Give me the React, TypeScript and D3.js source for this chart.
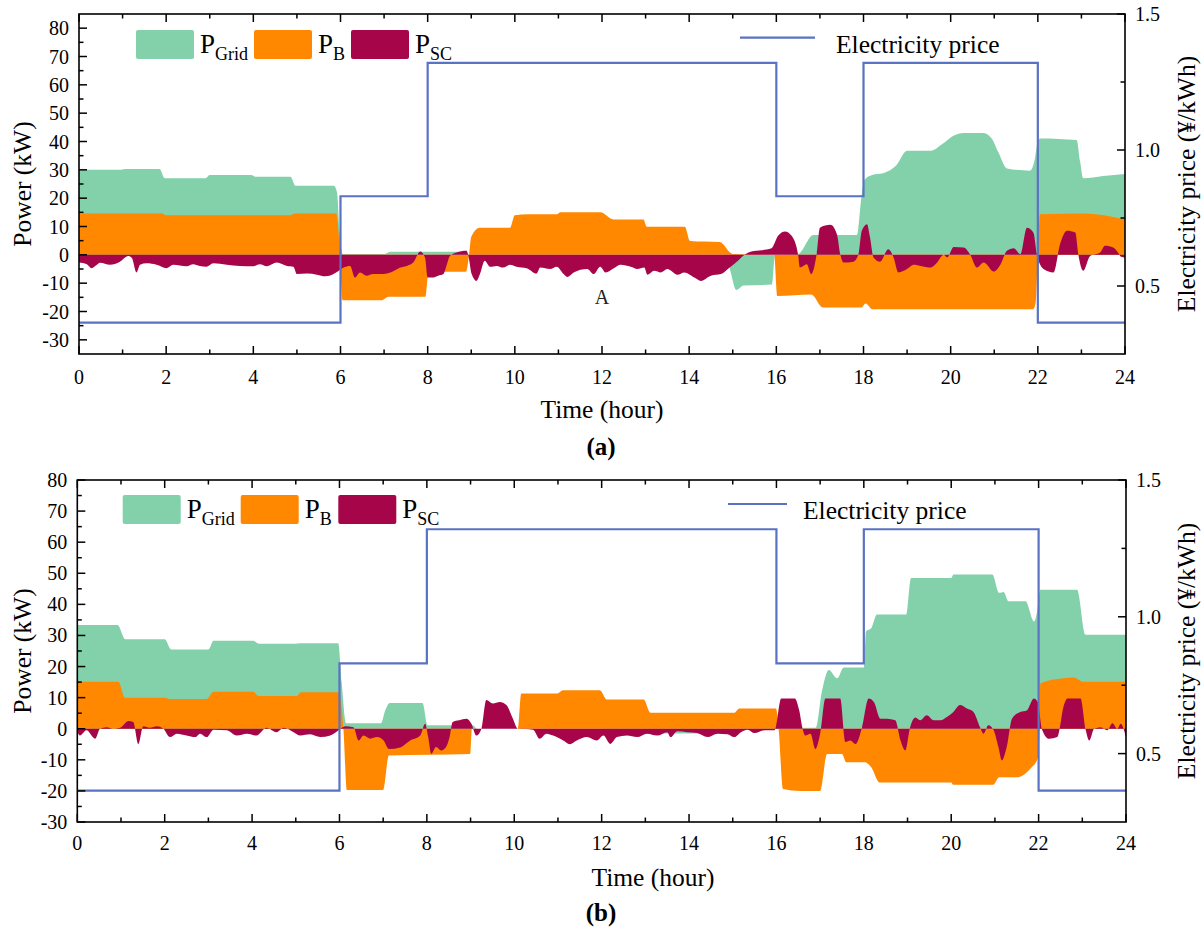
import React from 'react';
import * as d3 from 'd3';

type P = [number, number];

// ---------- data ----------
const hourTicks = [0, 2, 4, 6, 8, 10, 12, 14, 16, 18, 20, 22, 24];
const priceTicks = [0.5, 1.0, 1.5];
const priceBreaks = [0, 6, 8, 16, 18, 22, 24];
const priceLevels = [0.365, 0.83, 1.32, 0.83, 1.32, 0.365, 0.365];

const gridA: P[] = [
  [0, 30], [0.95, 30], [1.05, 30.3], [1.85, 30.3], [1.97, 27], [2.9, 27], [3.0, 28.2], [3.95, 28.2],
  [4.05, 27.6], [4.85, 27.6], [4.97, 24.4], [5.85, 24.4], [5.92, 22], [5.98, 8], [6.05, 0.3], [7.0, 0.3],
  [7.15, 1.1], [8.85, 1.1], [8.95, 0], [14.85, 0], [14.95, -6], [15.08, -12.4], [15.25, -10.8], [15.9, -10.5],
  [15.97, 0], [16.5, 0.3], [16.85, 7], [17.85, 7], [17.95, 20], [18.02, 26.4], [18.2, 28.2], [18.45, 28.8],
  [18.75, 31.5], [19.0, 36.7], [19.55, 36.7], [19.8, 39], [20.1, 42.3], [20.3, 43], [20.74, 43], [20.94, 41.1],
  [21.1, 36], [21.29, 30.5], [21.82, 29.7], [21.92, 33], [22.0, 40], [22.05, 41.1], [22.89, 40.5], [22.97, 33],
  [23.04, 27], [23.5, 27.8], [24, 28.5],
];

const battA: P[] = [
  [0, 14.6], [1.9, 14.6], [2.0, 14.0], [4.85, 14.0], [4.95, 14.6], [5.9, 14.6], [5.97, 5], [6.05, -16],
  [6.95, -16], [7.1, -14.8], [7.95, -14.8], [8.02, -6], [8.88, -6], [8.95, 0], [9.0, 6.4], [9.2, 9.6],
  [9.89, 9.6], [10.0, 14.0], [10.3, 14.3], [10.96, 14.3], [11.05, 15.0], [11.96, 15.0], [12.26, 12.5],
  [12.95, 12.5], [13.03, 9.9], [13.9, 9.9], [14.02, 4.9], [14.7, 4.5], [15.0, 0.3], [15.95, 0],
  [16.02, -14.5], [16.8, -14], [17.07, -18.6], [17.95, -18.6], [18.05, -17.2], [18.2, -19.2], [21.89, -19.2],
  [21.95, -17], [22.0, 0], [22.05, 14.3], [23.04, 14.6], [24, 12.5],
];

const scA: P[] = [
  [0, -2.7], [0.18, -3.3], [0.29, -4.7], [0.41, -3.5], [0.48, -2.8], [0.71, -3.5], [0.94, -2.4], [1.13, -0.4],
  [1.21, -1], [1.32, -6.2], [1.4, -3.5], [1.55, -3], [1.78, -3.5], [2.01, -4.7], [2.16, -3.5], [2.47, -4],
  [2.62, -3.3], [2.77, -3.9], [2.93, -4.2], [3.08, -3], [3.39, -3.5], [3.69, -3.9], [4.0, -4], [4.15, -3.3],
  [4.31, -4], [4.54, -2.7], [4.77, -3.9], [4.92, -4.2], [5.0, -6.8], [5.23, -6.6], [5.46, -7], [5.65, -7.6],
  [5.84, -6.8], [5.96, -5.6], [6.07, -4.5], [6.22, -3.9], [6.33, -8], [6.45, -6.2], [6.6, -7.4], [6.75, -6.8],
  [6.98, -6.8], [7.2, -5.9], [7.37, -4.5], [7.52, -3.9], [7.67, -2.7], [7.83, 1.2], [7.94, -1], [8.0, -8],
  [8.13, -8], [8.24, -7.4], [8.36, -6.8], [8.43, -3.9], [8.51, -0.4], [8.66, 0.8], [8.89, 1.4], [8.93, 0],
  [9.01, -6.8], [9.12, -9.2], [9.2, -6.8], [9.31, -2.1], [9.43, -4.2], [9.58, -3.9], [9.73, -4.5], [9.89, -3.5],
  [10.04, -4.2], [10.27, -4.7], [10.5, -6.6], [10.58, -4.5], [10.81, -5], [10.96, -4.2], [11.12, -6.8],
  [11.2, -7.8], [11.35, -6.2], [11.66, -5], [11.81, -6.8], [11.96, -4.2], [12.08, -6.2], [12.27, -4.7],
  [12.43, -3.5], [12.66, -4.2], [12.81, -5], [12.97, -4.5], [13.04, -7], [13.2, -5.6], [13.35, -6.2],
  [13.5, -5], [13.73, -7], [13.89, -6.2], [14.12, -8], [14.27, -9.2], [14.5, -7.4], [14.73, -6.8],
  [14.93, -4.5], [15.12, -2.1], [15.27, 0], [15.43, 1.2], [15.66, 1.6], [15.89, 2.3], [16.04, 6.7],
  [16.2, 8.2], [16.35, 6.7], [16.5, 0], [16.54, -4.5], [16.7, -3.3], [16.8, -6.8], [16.93, 0.8], [17.0, 9.6],
  [17.24, 10.6], [17.39, 7.3], [17.47, 0], [17.54, -2.7], [17.77, -2.4], [17.88, 0], [17.96, 8.5],
  [18.08, 10.8], [18.15, 6.1], [18.23, -0.9], [18.38, -2.4], [18.57, 2], [18.69, -0.9], [18.8, -6.2],
  [19.0, -5], [19.15, -3.5], [19.31, -3.9], [19.54, -4.5], [19.69, -2.7], [19.84, 0], [19.92, -0.9],
  [20.07, 2.8], [20.3, 2.6], [20.45, 0], [20.6, -4.5], [20.76, -2.7], [20.99, -5.9], [21.14, -3.5],
  [21.29, 1.4], [21.45, 2.3], [21.6, 0.2], [21.75, 9.6], [21.9, 7.8], [21.98, 0], [22.13, -5], [22.36, -6.2],
  [22.51, 3.8], [22.67, 8.5], [22.86, 7.9], [22.93, 0], [23.04, -5.6], [23.2, -0.4], [23.43, 0.8],
  [23.54, 3.2], [23.73, 2.6], [23.84, 0.8], [23.91, -0.7], [24, -1],
];

const gridB: P[] = [
  [0, 33.4], [0.92, 33.4], [1.1, 28.8], [2.0, 28.8], [2.15, 25.5], [3.0, 25.5], [3.12, 28.3], [4.03, 28.3],
  [4.15, 27.3], [5.0, 27.3], [5.1, 27.5], [5.97, 27.5], [6.05, 15], [6.15, 1.8], [6.95, 1.8], [7.05, 6],
  [7.15, 8.3], [7.9, 8.3], [8.02, 1.1], [9.05, 1.1], [9.15, 0], [12.0, 0], [12.1, -1.5], [14.5, -1.5],
  [14.6, 0], [16.9, 0.3], [17.04, 12], [17.2, 18.9], [17.39, 16.2], [17.54, 19.7], [18.0, 19.7],
  [18.05, 31.3], [18.17, 32.3], [18.3, 36.7], [18.97, 36.7], [19.08, 48.5], [20.0, 48.5], [20.05, 49.6],
  [20.94, 49.6], [21.1, 43.7], [21.2, 44], [21.31, 41], [21.7, 41], [21.9, 34.5], [21.97, 38], [22.04, 44.7],
  [22.88, 44.7], [23.07, 30.2], [24, 30.2],
];

const battB: P[] = [
  [0, 15.1], [0.94, 15.1], [1.09, 10.0], [2.01, 10.0], [2.1, 9.6], [2.96, 9.6], [3.12, 11.9], [4.03, 11.9],
  [4.15, 10.5], [5.02, 10.5], [5.12, 11.7], [5.98, 11.7], [6.09, 0], [6.17, -19.7], [7.0, -19.7],
  [7.13, -8.6], [8.99, -8.1], [9.03, 0], [10.08, 0], [10.16, 11.3], [10.97, 11.3], [11.12, 12.4],
  [11.96, 12.4], [12.12, 9.4], [12.96, 9.4], [13.12, 5.1], [15.03, 5.1], [15.15, 6.5], [15.99, 6.5],
  [16.05, 0], [16.15, -19.4], [16.55, -20], [17.0, -20], [17.16, -8.1], [17.5, -8.1], [17.6, -10.8],
  [18.02, -10.8], [18.17, -12.4], [18.36, -17.3], [20.0, -17.3], [20.04, -18], [20.96, -18], [21.1, -15.6],
  [21.5, -15.6], [21.8, -13], [21.99, -9.2], [22.02, 0], [22.04, 14.6], [22.57, 16.2], [22.8, 16.5],
  [23.03, 15.1], [24, 15.1],
];

const scB: P[] = [
  [0, -1], [0.06, -2.2], [0.21, -0.5], [0.41, -3.2], [0.52, 0], [0.67, 0.5], [0.82, 0], [0.98, 0.3],
  [1.17, 2.5], [1.28, 2.2], [1.4, -4.9], [1.51, 0.8], [1.66, 0.3], [1.82, 0.8], [1.97, 0], [2.12, -2.7],
  [2.28, -1.6], [2.5, -2.2], [2.7, -2.7], [2.81, -1.6], [2.96, -2.7], [3.12, -0.3], [3.42, -0.5],
  [3.65, -2.2], [3.88, -1.6], [4.1, -2.2], [4.33, 0.3], [4.56, -1.1], [4.72, 0.3], [4.95, -1.1], [5.1, -2.2],
  [5.33, -1.8], [5.56, -2.7], [5.79, -2.2], [5.98, -0.5], [6.13, 0.8], [6.32, 0.5], [6.44, -3.8],
  [6.55, -2.2], [6.7, -3.2], [6.86, -2.7], [7.01, -3.8], [7.13, -6.5], [7.39, -6], [7.62, -3.8],
  [7.85, -2.2], [7.96, 1.6], [8.03, -2.7], [8.1, -8.1], [8.21, -5.9], [8.33, -7], [8.44, -5.9],
  [8.52, -2.7], [8.59, 2.2], [8.74, 2.7], [8.9, 3.2], [9.02, 1.6], [9.13, -2.2], [9.25, 0], [9.36, 9.2],
  [9.51, 8.1], [9.67, 8.6], [9.82, 7.6], [9.97, 3.2], [10.08, 0], [10.43, -0.3], [10.58, -3.2],
  [10.74, -1.6], [10.89, -2.2], [11.12, -3.8], [11.27, -5], [11.43, -3.8], [11.66, -2.7], [11.89, -3.8],
  [12.04, -2.2], [12.2, -4.9], [12.35, -2.7], [12.58, -2.2], [12.81, -2.7], [13.04, -1.6], [13.27, -2.2],
  [13.5, -1.1], [13.58, -2.7], [13.73, -0.8], [13.96, -1.1], [14.19, -1.4], [14.42, -2.7], [14.65, -1.6],
  [14.88, -1.8], [15.03, -2.7], [15.19, -1.1], [15.34, -0.3], [15.5, -1.4], [15.73, -0.5], [15.96, -0.5],
  [16.11, 9.7], [16.42, 9.7], [16.52, 6], [16.6, 0], [16.66, -2.2], [16.78, -1.6], [16.89, -6.5],
  [17.0, -1.6], [17.12, 9.7], [17.46, 9.7], [17.58, -4.3], [17.69, -3.8], [17.81, -4.9], [17.96, 0.5],
  [18.11, 9.7], [18.23, 8.6], [18.38, 3.2], [18.53, 3.2], [18.72, 2.7], [18.84, -3.8], [18.95, -7],
  [19.06, 0.5], [19.18, 3.6], [19.29, 2.7], [19.44, 4.3], [19.6, 2.7], [19.75, 2.7], [19.9, 3.8],
  [20.05, 5.4], [20.2, 7.6], [20.36, 6.5], [20.51, 5.4], [20.66, 0.5], [20.74, -1.6], [20.85, 1.1],
  [20.97, -0.5], [21.08, -5.9], [21.16, -10.2], [21.27, -5.9], [21.39, 3.2], [21.58, 5.4], [21.73, 5.9],
  [21.89, 9.7], [21.98, 8.6], [22.08, -0.3], [22.24, -3.2], [22.43, -2.7], [22.58, 7.6], [22.66, 9.7],
  [22.96, 9.7], [23.08, -0.5], [23.16, -3.8], [23.27, 0], [23.42, 0.5], [23.57, -0.5], [23.69, 1.8],
  [23.8, 0], [23.88, 1.6], [24, -2.7],
];

// ---------- style ----------
const C_GRID = '#82d1aa';
const C_B = '#ff8800';
const C_SC = '#a60649';
const C_PRICE = '#5a72c4';
const FONT = '"Liberation Serif", "Times New Roman", serif';

interface PanelCfg {
  id: string;
  left: number; right: number; top: number; bottom: number;
  yMin: number; yMax: number;
  grid: P[]; batt: P[]; sc: P[];
  swatchX: number[]; swatchY: number;
  lineX0: number; lineX1: number; lineY: number; lineTextX: number;
  xLabelY: number; xTitleY: number; xTitleX: number; panelLabelY: number; panelLabel: string;
  annotation?: { t: number; v: number; text: string };
}

function Panel({ cfg }: { cfg: PanelCfg }) {
  const x = d3.scaleLinear().domain([0, 24]).range([cfg.left, cfg.right]);
  const y = d3.scaleLinear().domain([cfg.yMin, cfg.yMax]).range([cfg.bottom, cfg.top]);
  const yp = d3.scaleLinear().domain([0.25, 1.5]).range([cfg.bottom, cfg.top]);

  const area = d3.area<P>()
    .x(d => x(d[0]))
    .y0(y(0))
    .y1(d => y(d[1]))
    .curve(d3.curveMonotoneX);

  const priceLine = d3.line<number>()
    .x((_, i) => x(priceBreaks[i]))
    .y(d => yp(d))
    .curve(d3.curveStepAfter);

  const majorY = d3.range(-30, 81, 10);
  const minorY = d3.range(cfg.yMin, cfg.yMax + 0.1, 5).filter(v => v % 10 !== 0 && v > cfg.yMin && v < cfg.yMax);
  const minorX = d3.range(1, 24, 2);
  const minorP = [0.75, 1.25];
  const MAJ = 8, MIN = 4.5;
  const clipId = 'clip-' + cfg.id;
  const midY = (cfg.top + cfg.bottom) / 2;
  const w = 58, h = 29;
  const names = [['Grid', C_GRID], ['B', C_B], ['SC', C_SC]];

  return (
    <g>
      <defs>
        <clipPath id={clipId}>
          <rect x={cfg.left} y={cfg.top} width={cfg.right - cfg.left} height={cfg.bottom - cfg.top} />
        </clipPath>
      </defs>
      <g clipPath={`url(#${clipId})`}>
        <path d={area(cfg.grid) || ''} fill={C_GRID} />
        <path d={area(cfg.batt) || ''} fill={C_B} />
        <path d={area(cfg.sc) || ''} fill={C_SC} />
        <path d={priceLine(priceLevels) || ''} fill="none" stroke={C_PRICE} strokeWidth={2.2} />
      </g>
      {/* frame */}
      <rect x={cfg.left} y={cfg.top} width={cfg.right - cfg.left} height={cfg.bottom - cfg.top}
        fill="none" stroke="#000" strokeWidth={1.6} />
      {/* x ticks bottom + top */}
      {hourTicks.map(t => (
        <g key={'xt' + t}>
          <line x1={x(t)} x2={x(t)} y1={cfg.bottom} y2={cfg.bottom - MAJ} stroke="#000" strokeWidth={1.5} />
          <line x1={x(t)} x2={x(t)} y1={cfg.top} y2={cfg.top + MAJ} stroke="#000" strokeWidth={1.5} />
          <text x={x(t)} y={cfg.xLabelY} textAnchor="middle" fontSize={20} fontFamily={FONT}>{t}</text>
        </g>
      ))}
      {minorX.map(t => (
        <g key={'xm' + t}>
          <line x1={x(t)} x2={x(t)} y1={cfg.bottom} y2={cfg.bottom - MIN} stroke="#000" strokeWidth={1.5} />
          <line x1={x(t)} x2={x(t)} y1={cfg.top} y2={cfg.top + MIN} stroke="#000" strokeWidth={1.5} />
        </g>
      ))}
      {/* left y ticks */}
      {majorY.map(v => (
        <g key={'yt' + v}>
          <line x1={cfg.left} x2={cfg.left + MAJ} y1={y(v)} y2={y(v)} stroke="#000" strokeWidth={1.5} />
          <text x={cfg.left - 10} y={y(v)} dy="0.35em" textAnchor="end" fontSize={20} fontFamily={FONT}>{v}</text>
        </g>
      ))}
      {minorY.map(v => (
        <line key={'ym' + v} x1={cfg.left} x2={cfg.left + MIN} y1={y(v)} y2={y(v)} stroke="#000" strokeWidth={1.5} />
      ))}
      {/* right price ticks */}
      {priceTicks.map(v => (
        <g key={'pt' + v}>
          <line x1={cfg.right} x2={cfg.right - MAJ} y1={yp(v)} y2={yp(v)} stroke="#000" strokeWidth={1.5} />
          <text x={cfg.right + 10} y={yp(v)} dy="0.35em" textAnchor="start" fontSize={20} fontFamily={FONT}>{v.toFixed(1)}</text>
        </g>
      ))}
      {minorP.map(v => (
        <line key={'pm' + v} x1={cfg.right} x2={cfg.right - MIN} y1={yp(v)} y2={yp(v)} stroke="#000" strokeWidth={1.5} />
      ))}
      {/* axis titles */}
      <text transform={`translate(22,${midY}) rotate(-90)`} textAnchor="middle" dy="0.35em"
        fontSize={25.5} fontFamily={FONT}>Power (kW)</text>
      <text transform={`translate(1186,${midY}) rotate(-90)`} textAnchor="middle" dy="0.35em"
        fontSize={25.5} fontFamily={FONT}>Electricity price (¥/kWh)</text>
      <text x={cfg.xTitleX} y={cfg.xTitleY} textAnchor="middle" fontSize={25.5} fontFamily={FONT}>Time (hour)</text>
      <text x={601} y={cfg.panelLabelY} textAnchor="middle" fontSize={25} fontWeight="bold" fontFamily={FONT}>{cfg.panelLabel}</text>
      {/* legend */}
      {names.map(([n, c], i) => (
        <g key={'lg' + n}>
          <rect x={cfg.swatchX[i]} y={cfg.swatchY} width={w} height={h} fill={c} rx={2} />
          <text x={cfg.swatchX[i] + 64} y={cfg.swatchY + 23} fontSize={27} fontFamily={FONT}>
            P<tspan fontSize={18} dy={7}>{n}</tspan>
          </text>
        </g>
      ))}
      <line x1={cfg.lineX0} x2={cfg.lineX1} y1={cfg.lineY} y2={cfg.lineY} stroke={C_PRICE} strokeWidth={2.2} />
      <text x={cfg.lineTextX} y={cfg.lineY + 15} fontSize={25.5} fontFamily={FONT}>Electricity price</text>
      {cfg.annotation && (
        <text x={x(cfg.annotation.t)} y={y(cfg.annotation.v)} textAnchor="middle" fontSize={20}
          fontFamily={FONT} fill="#222">{cfg.annotation.text}</text>
      )}
    </g>
  );
}

const panelA: PanelCfg = {
  id: 'a', left: 79, right: 1125, top: 14, bottom: 354, yMin: -35, yMax: 85,
  grid: gridA, batt: battA, sc: scA,
  swatchX: [136, 254, 351], swatchY: 30,
  lineX0: 740, lineX1: 815, lineY: 37.7, lineTextX: 836,
  xLabelY: 384, xTitleY: 418, xTitleX: 602, panelLabelY: 455, panelLabel: '(a)',
  annotation: { t: 12, v: -17.3, text: 'A' },
};

const panelB: PanelCfg = {
  id: 'b', left: 77.3, right: 1126, top: 480, bottom: 822, yMin: -30, yMax: 80,
  grid: gridB, batt: battB, sc: scB,
  swatchX: [122.7, 240.7, 338.3], swatchY: 495,
  lineX0: 728, lineX1: 787, lineY: 504, lineTextX: 803,
  xLabelY: 850, xTitleY: 886, xTitleX: 653, panelLabelY: 921, panelLabel: '(b)',
};

export default function App() {
  return (
    <svg width={1204} height={930} style={{ position: 'absolute', left: 0, top: 0, background: '#fff' }}>
      <rect width={1204} height={930} fill="#fff" />
      <Panel cfg={panelA} />
      <Panel cfg={panelB} />
    </svg>
  );
}
